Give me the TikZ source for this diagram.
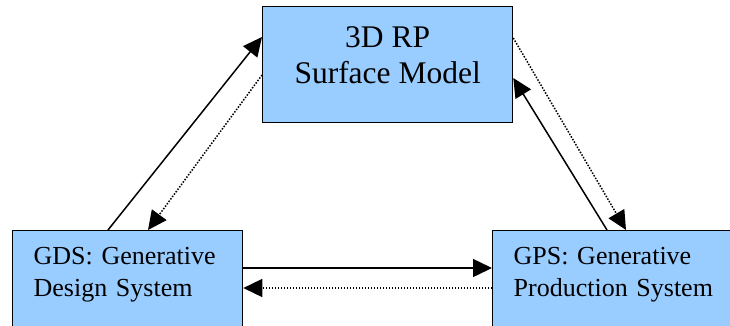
\documentclass[tikz,border=0pt]{standalone}
\usepackage{fontspec}
\setmainfont{Liberation Serif}
\usetikzlibrary{arrows.meta}
\definecolor{boxblue}{HTML}{99CCFF}
\tikzset{
  sysbox/.style={
    draw, line width=1.3pt, fill=boxblue,
    anchor=north west, align=left,
    font=\fontsize{26}{32}\selectfont,
    inner xsep=21pt, inner ysep=16.5pt, text depth=60pt
  },
  modelbox/.style={
    draw, line width=1.3pt, fill=boxblue,
    anchor=north west, align=center, minimum width=250pt,
    font=\fontsize{31.5}{36}\selectfont,
    inner ysep=19.5pt, text depth=20pt
  },
  arrow/.style={-{Triangle[length=19pt,width=18pt]}, line width=1.5pt},
  dotarrow/.style={-{Triangle[length=19pt,width=18pt]}, line width=1.5pt, dash pattern=on 1.5pt off 1.5pt}
}

\begin{document}
\begin{tikzpicture}[x=1pt, y=-1pt]
  \useasboundingbox (0,0) rectangle (730,325);

  \node[modelbox] (rp) at (262,6) {3D RP\\Surface Model};
  \node[sysbox, text width=188pt] (gds) at (12,230) {GDS: Generative\\Design System};
  \node[sysbox, text width=208pt] (gps) at (492,230) {GPS: Generative\\Production System};

  % design <-> model
  \draw[arrow] ([xshift=96pt]gds.north west) -- ([yshift=-31pt]rp.north west);
  \draw[dotarrow] ([yshift=-69pt]rp.north west) -- ([xshift=136pt]gds.north west);
  % production <-> model
  \draw[arrow] ([xshift=115pt]gps.north west) -- ([yshift=-72pt]rp.north east);
  \draw[dotarrow] ([yshift=-32pt]rp.north east) -- ([xshift=134pt]gps.north west);
  % design <-> production
  \draw[arrow] ([yshift=-38pt]gds.north east) -- ([yshift=-38pt]gps.north west);
  \draw[dotarrow] ([yshift=-58pt]gps.north west) -- ([yshift=-58pt]gds.north east);
\end{tikzpicture}
\end{document}
